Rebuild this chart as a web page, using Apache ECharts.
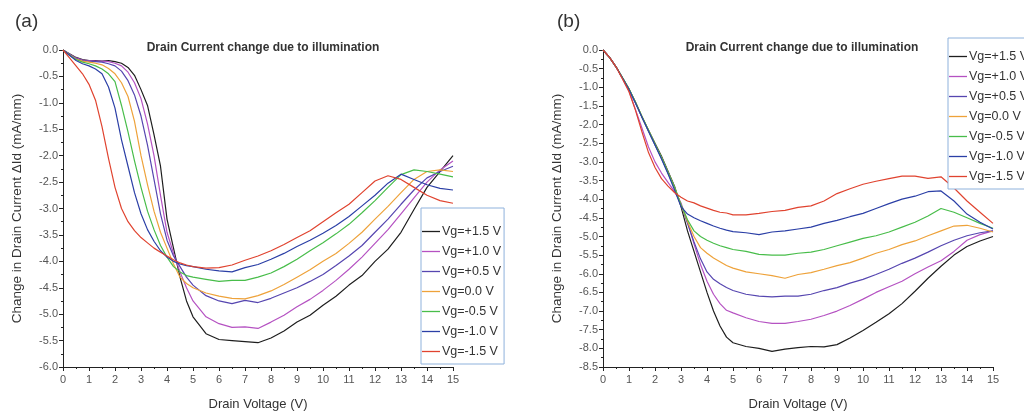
<!DOCTYPE html>
<html>
<head>
<meta charset="utf-8">
<script src="https://cdn.jsdelivr.net/npm/echarts@6/dist/echarts.min.js"></script>
<style>
html,body{margin:0;padding:0;background:#fff;}
#chart{width:1024px;height:420px;}
</style>
</head>
<body>
<div id="chart"></div>
<script>
// Drain voltage grid (V), shared by both panels
const X = [0,0.25,0.5,0.75,1,1.25,1.5,1.75,2,2.25,2.5,2.75,3,3.25,3.5,3.75,4,4.25,4.5,4.75,5,
  5.5,6,6.5,7,7.5,8,8.5,9,9.5,10,10.5,11,11.5,12,12.5,13,13.5,14,14.5,15];

const seriesNames = ['Vg=+1.5 V','Vg=+1.0 V','Vg=+0.5 V','Vg=0.0 V','Vg=-0.5 V','Vg=-1.0 V','Vg=-1.5 V'];
const seriesColors = ['#1e1e1e','#b552c2','#5646b0','#eea23a','#48bd4a','#2b3fa6','#e0432f'];

// Panel (a)
const a_p15 = [0,-0.07,-0.14,-0.18,-0.2,-0.2,-0.21,-0.2,-0.22,-0.25,-0.33,-0.48,-0.75,-1.05,-1.6,-2.2,-3.2,-3.75,-4.3,-4.75,-5.05,
  -5.37,-5.48,-5.5,-5.52,-5.54,-5.45,-5.32,-5.15,-5.02,-4.83,-4.66,-4.45,-4.27,-4.0,-3.77,-3.45,-3.02,-2.6,-2.3,-2.0];
const a_p10 = [0,-0.08,-0.15,-0.19,-0.2,-0.21,-0.21,-0.22,-0.25,-0.3,-0.42,-0.62,-0.92,-1.4,-2.0,-2.75,-3.45,-3.85,-4.2,-4.5,-4.75,
  -5.05,-5.18,-5.25,-5.24,-5.27,-5.15,-5.02,-4.86,-4.72,-4.55,-4.36,-4.15,-3.92,-3.66,-3.4,-3.1,-2.8,-2.5,-2.27,-2.1];
const a_p05 = [0,-0.08,-0.16,-0.2,-0.21,-0.22,-0.23,-0.26,-0.3,-0.4,-0.58,-0.85,-1.25,-1.8,-2.45,-3.1,-3.6,-3.9,-4.1,-4.3,-4.45,
  -4.65,-4.75,-4.8,-4.74,-4.78,-4.7,-4.6,-4.5,-4.38,-4.25,-4.08,-3.9,-3.7,-3.45,-3.2,-2.92,-2.65,-2.42,-2.3,-2.2];
const a_00 = [0,-0.09,-0.17,-0.21,-0.23,-0.25,-0.28,-0.35,-0.45,-0.62,-0.88,-1.35,-2.0,-2.55,-3.05,-3.45,-3.75,-4.05,-4.3,-4.42,-4.5,
  -4.6,-4.66,-4.7,-4.71,-4.65,-4.56,-4.44,-4.3,-4.16,-4.0,-3.85,-3.66,-3.45,-3.2,-2.96,-2.7,-2.45,-2.3,-2.27,-2.3];
const a_m05 = [0,-0.1,-0.18,-0.23,-0.26,-0.3,-0.36,-0.45,-0.6,-1.05,-1.55,-2.1,-2.6,-3.05,-3.4,-3.7,-3.92,-4.1,-4.2,-4.27,-4.3,
  -4.34,-4.38,-4.36,-4.36,-4.3,-4.22,-4.1,-3.96,-3.8,-3.65,-3.48,-3.3,-3.08,-2.85,-2.6,-2.36,-2.27,-2.3,-2.35,-2.4];
const a_m10 = [0,-0.1,-0.2,-0.26,-0.3,-0.36,-0.45,-0.7,-1.1,-1.7,-2.2,-2.7,-3.1,-3.4,-3.62,-3.8,-3.92,-4.0,-4.05,-4.08,-4.1,
  -4.15,-4.18,-4.2,-4.12,-4.06,-3.96,-3.85,-3.72,-3.6,-3.47,-3.32,-3.15,-2.95,-2.75,-2.52,-2.35,-2.45,-2.55,-2.62,-2.65];
const a_m15 = [0,-0.15,-0.3,-0.45,-0.65,-0.95,-1.45,-2.05,-2.6,-3.0,-3.25,-3.42,-3.55,-3.65,-3.75,-3.83,-3.9,-3.97,-4.03,-4.07,-4.1,
  -4.13,-4.12,-4.07,-3.98,-3.9,-3.8,-3.68,-3.55,-3.42,-3.25,-3.08,-2.92,-2.7,-2.48,-2.38,-2.45,-2.6,-2.75,-2.85,-2.9];

// Panel (b)
const b_p15 = [0,-0.2,-0.45,-0.75,-1.05,-1.4,-1.8,-2.15,-2.5,-2.85,-3.25,-3.65,-4.2,-4.85,-5.4,-5.95,-6.5,-7.0,-7.4,-7.7,-7.85,
  -7.95,-8.0,-8.08,-8.02,-7.98,-7.95,-7.96,-7.9,-7.72,-7.52,-7.3,-7.07,-6.8,-6.47,-6.12,-5.8,-5.5,-5.27,-5.12,-5.0];
const b_p10 = [0,-0.2,-0.45,-0.77,-1.1,-1.6,-2.1,-2.6,-3.0,-3.3,-3.55,-3.8,-4.1,-4.6,-5.2,-5.75,-6.2,-6.55,-6.8,-6.98,-7.05,
  -7.18,-7.28,-7.33,-7.33,-7.28,-7.22,-7.12,-7.0,-6.85,-6.68,-6.5,-6.35,-6.2,-6.0,-5.82,-5.65,-5.4,-5.1,-4.95,-4.85];
const b_p05 = [0,-0.2,-0.45,-0.75,-1.05,-1.42,-1.8,-2.18,-2.55,-2.9,-3.3,-3.7,-4.15,-4.65,-5.15,-5.6,-5.95,-6.15,-6.27,-6.37,-6.45,
  -6.55,-6.6,-6.62,-6.6,-6.6,-6.55,-6.45,-6.37,-6.25,-6.15,-6.02,-5.88,-5.72,-5.58,-5.42,-5.25,-5.1,-4.98,-4.9,-4.85];
const b_00 = [0,-0.2,-0.45,-0.75,-1.05,-1.4,-1.78,-2.15,-2.52,-2.88,-3.28,-3.68,-4.15,-4.6,-5.0,-5.3,-5.45,-5.58,-5.68,-5.78,-5.85,
  -5.95,-6.0,-6.05,-6.12,-6.02,-5.97,-5.88,-5.78,-5.7,-5.58,-5.45,-5.35,-5.22,-5.12,-4.98,-4.85,-4.72,-4.7,-4.78,-4.88];
const b_m05 = [0,-0.2,-0.45,-0.74,-1.04,-1.4,-1.78,-2.15,-2.52,-2.88,-3.28,-3.68,-4.15,-4.55,-4.85,-5.0,-5.1,-5.18,-5.25,-5.3,-5.35,
  -5.4,-5.48,-5.5,-5.5,-5.45,-5.42,-5.35,-5.25,-5.15,-5.05,-4.98,-4.88,-4.75,-4.62,-4.45,-4.25,-4.35,-4.5,-4.65,-4.78];
const b_m10 = [0,-0.2,-0.45,-0.75,-1.06,-1.42,-1.8,-2.18,-2.55,-2.92,-3.32,-3.75,-4.2,-4.4,-4.5,-4.58,-4.65,-4.72,-4.78,-4.83,-4.87,
  -4.9,-4.95,-4.88,-4.85,-4.8,-4.75,-4.65,-4.57,-4.47,-4.38,-4.25,-4.12,-4.0,-3.92,-3.8,-3.78,-4.05,-4.4,-4.62,-4.8];
const b_m15 = [0,-0.2,-0.45,-0.78,-1.12,-1.62,-2.2,-2.75,-3.15,-3.45,-3.65,-3.82,-3.95,-4.05,-4.1,-4.18,-4.24,-4.3,-4.35,-4.37,-4.42,
  -4.42,-4.38,-4.33,-4.3,-4.22,-4.18,-4.05,-3.85,-3.72,-3.6,-3.52,-3.45,-3.38,-3.38,-3.44,-3.4,-3.7,-4.05,-4.35,-4.65];

const panelA = [a_p15,a_p10,a_p05,a_00,a_m05,a_m10,a_m15];
const panelB = [b_p15,b_p10,b_p05,b_00,b_m05,b_m10,b_m15];

const FONT = '"Liberation Sans", Arial, sans-serif';
const chart = echarts.init(document.getElementById('chart'), null, {renderer:'canvas'});

function mkX(idx){
  return {
    gridIndex: idx, type:'value', min:0, max:15, interval:1,
    name:'Drain Voltage (V)', nameLocation:'middle', nameGap:31,
    nameTextStyle:{fontFamily:FONT, fontSize:13, color:'#333'},
    axisLine:{show:true, onZero:false, lineStyle:{color:'#222', width:1}},
    axisTick:{show:true, length:4, lineStyle:{color:'#222'}},
    minorTick:{show:true, splitNumber:2, length:2, lineStyle:{color:'#222'}},
    axisLabel:{fontFamily:FONT, fontSize:11, color:'#555', margin:7},
    splitLine:{show:false}
  };
}
function mkY(idx, min){
  return {
    gridIndex: idx, type:'value', min:min, max:0, interval:0.5,
    name:'Change in Drain Current \u0394Id (mA/mm)', nameLocation:'middle', nameGap:39, nameRotate:90,
    nameTextStyle:{fontFamily:FONT, fontSize:13.5, color:'#333'},
    axisLine:{show:true, onZero:false, lineStyle:{color:'#222', width:1}},
    axisTick:{show:true, length:4, lineStyle:{color:'#222'}},
    minorTick:{show:true, splitNumber:2, length:2, lineStyle:{color:'#222'}},
    axisLabel:{fontFamily:FONT, fontSize:11, color:'#555', margin:5,
      formatter: v => (Math.abs(v) < 1e-9 ? '0.0' : v.toFixed(1))},
    splitLine:{show:false}
  };
}
function mkLegend(idx, left, top, padTop){
  return {
    show:true, orient:'vertical', left:left, top:top,
    data: seriesNames,
    itemWidth:18, itemHeight:12, itemGap:7,
    padding:[padTop,3,6,1],
    borderColor:'#8fb2dc', borderWidth:1, backgroundColor:'#fff',
    textStyle:{fontFamily:FONT, fontSize:12.5, color:'#333', padding:[0,0,0,-3]},
    icon:'path://M0,5 L18,5 L18,6.3 L0,6.3 Z',
    selectedMode:false
  };
}

const series = [];
function addPanel(data, idx){
  data.forEach((arr, i) => {
    series.push({
      name: seriesNames[i], type:'line',
      xAxisIndex: idx, yAxisIndex: idx,
      data: X.map((x, k) => [x, arr[k]]),
      symbol:'none', showSymbol:false, smooth:false,
      color: seriesColors[i],
      lineStyle:{width:1.2, color: seriesColors[i]},
      z: 2
    });
  });
}
addPanel(panelA, 0);
addPanel(panelB, 1);

chart.setOption({
  animation:false,
  backgroundColor:'#fff',
  title:[
    {text:'(a)', left:10, top:7, textStyle:{fontFamily:FONT, fontSize:19, fontWeight:'normal', color:'#333'}},
    {text:'(b)', left:552, top:7, textStyle:{fontFamily:FONT, fontSize:19, fontWeight:'normal', color:'#333'}},
    {text:'Drain Current change due to illumination', left:258, top:37, textAlign:'center',
      textStyle:{fontFamily:FONT, fontSize:12, fontWeight:'bold', color:'#333'}},
    {text:'Drain Current change due to illumination', left:797, top:37, textAlign:'center',
      textStyle:{fontFamily:FONT, fontSize:12, fontWeight:'bold', color:'#333'}}
  ],
  grid:[
    {left:63, top:50, width:390, height:317, containLabel:false},
    {left:603, top:50, width:390, height:317, containLabel:false}
  ],
  xAxis:[mkX(0), mkX(1)],
  yAxis:[mkY(0,-6), mkY(1,-8.5)],
  legend:[mkLegend(0, 421, 208, 17), mkLegend(1, 948, 38, 12)],
  series: series
});
</script>
</body>
</html>
